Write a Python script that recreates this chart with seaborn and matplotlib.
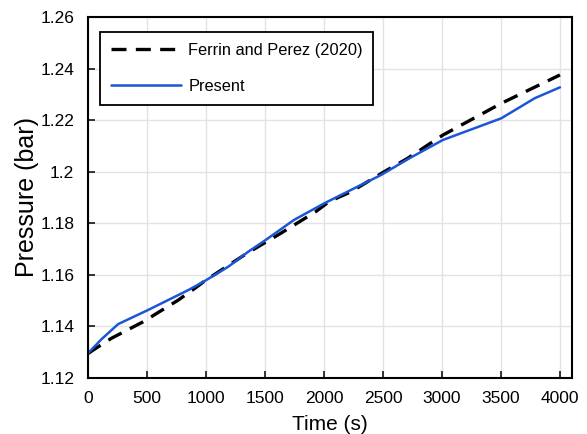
import matplotlib
matplotlib.use("Agg")
import matplotlib.pyplot as plt
import seaborn as sns
import pandas as pd

# Reference data: Ferrin and Perez (2020)
ref_time = [0, 42, 198, 467, 764, 906, 991, 1217, 1349, 1633, 1930, 2043, 2228, 2511,
            2710, 3008, 3503, 4000]
ref_pressure = [1.1295, 1.1308, 1.1354, 1.1418, 1.1502, 1.1548, 1.1577, 1.1645, 1.1684,
                1.1761, 1.1845, 1.1884, 1.1922, 1.2000, 1.2052, 1.2142, 1.2265, 1.2375]

# Present simulation
sim_time = [0, 113, 255, 510, 850, 978, 1190, 1359, 1505, 1746, 2001, 2228, 2483, 2724,
            3008, 3503, 3787, 4000]
sim_pressure = [1.1296, 1.1350, 1.1409, 1.1464, 1.1541, 1.1573, 1.1632, 1.1690, 1.1735,
                1.1813, 1.1877, 1.1929, 1.1987, 1.2052, 1.2123, 1.2207, 1.2285, 1.2327]

labels = ["Ferrin and Perez (2020)", "Present"]
x_ticks = [0, 500, 1000, 1500, 2000, 2500, 3000, 3500, 4000]
y_ticks = [1.12, 1.14, 1.16, 1.18, 1.20, 1.22, 1.24, 1.26]
y_tick_labels = ["1.12", "1.14", "1.16", "1.18", "1.2", "1.22", "1.24", "1.26"]

df = pd.concat([
    pd.DataFrame({"Time": ref_time, "Pressure": ref_pressure, "Source": labels[0]}),
    pd.DataFrame({"Time": sim_time, "Pressure": sim_pressure, "Source": labels[1]}),
])

sns.set_style("ticks")
plt.rcParams["font.family"] = ["Liberation Sans", "DejaVu Sans"]
plt.rcParams["text.color"] = "black"
plt.rcParams["axes.labelcolor"] = "black"

fig = plt.figure(figsize=(5.87, 4.34), dpi=100)
ax = fig.add_axes([0.150, 0.129, 0.824, 0.832])

sns.lineplot(data=df, x="Time", y="Pressure", hue="Source", style="Source",
             palette={labels[0]: "black", labels[1]: "#1a56d6"},
             dashes={labels[0]: (4.5, 2.8), labels[1]: ""},
             size="Source", sizes={labels[0]: 2.4, labels[1]: 1.8},
             ax=ax, sort=False)

ax.set_xlim(0, 4100)
ax.set_ylim(1.12, 1.26)
ax.set_xticks(x_ticks)
ax.set_yticks(y_ticks)
ax.set_yticklabels(y_tick_labels)
ax.grid(True, color="#e3e3e3", linewidth=1.0)
ax.set_axisbelow(True)
ax.tick_params(direction="in", length=5, width=1.1, labelsize=12.5, colors="black")
ax.tick_params(axis="x", pad=9)
ax.tick_params(axis="y", pad=10)
for s in ax.spines.values():
    s.set_color("black")
    s.set_linewidth(1.5)
    s.set_visible(True)

ax.set_xlabel("Time (s)", fontsize=15, labelpad=7, color="black")
ax.set_ylabel("Pressure (bar)", fontsize=18, labelpad=1, color="black")

handles, _ = ax.get_legend_handles_labels()
leg = ax.legend(handles=handles[-2:], labels=labels,
                loc="upper left", bbox_to_anchor=(0.025, 0.958), borderaxespad=0,
                fontsize=11.8, frameon=True, fancybox=False, edgecolor="black",
                framealpha=1, handlelength=4.27, handletextpad=0.45,
                labelspacing=1.3, borderpad=0.65)
leg.get_frame().set_linewidth(1.3)
for t in leg.get_texts():
    t.set_color("black")

fig.savefig("out.png", dpi=100)
